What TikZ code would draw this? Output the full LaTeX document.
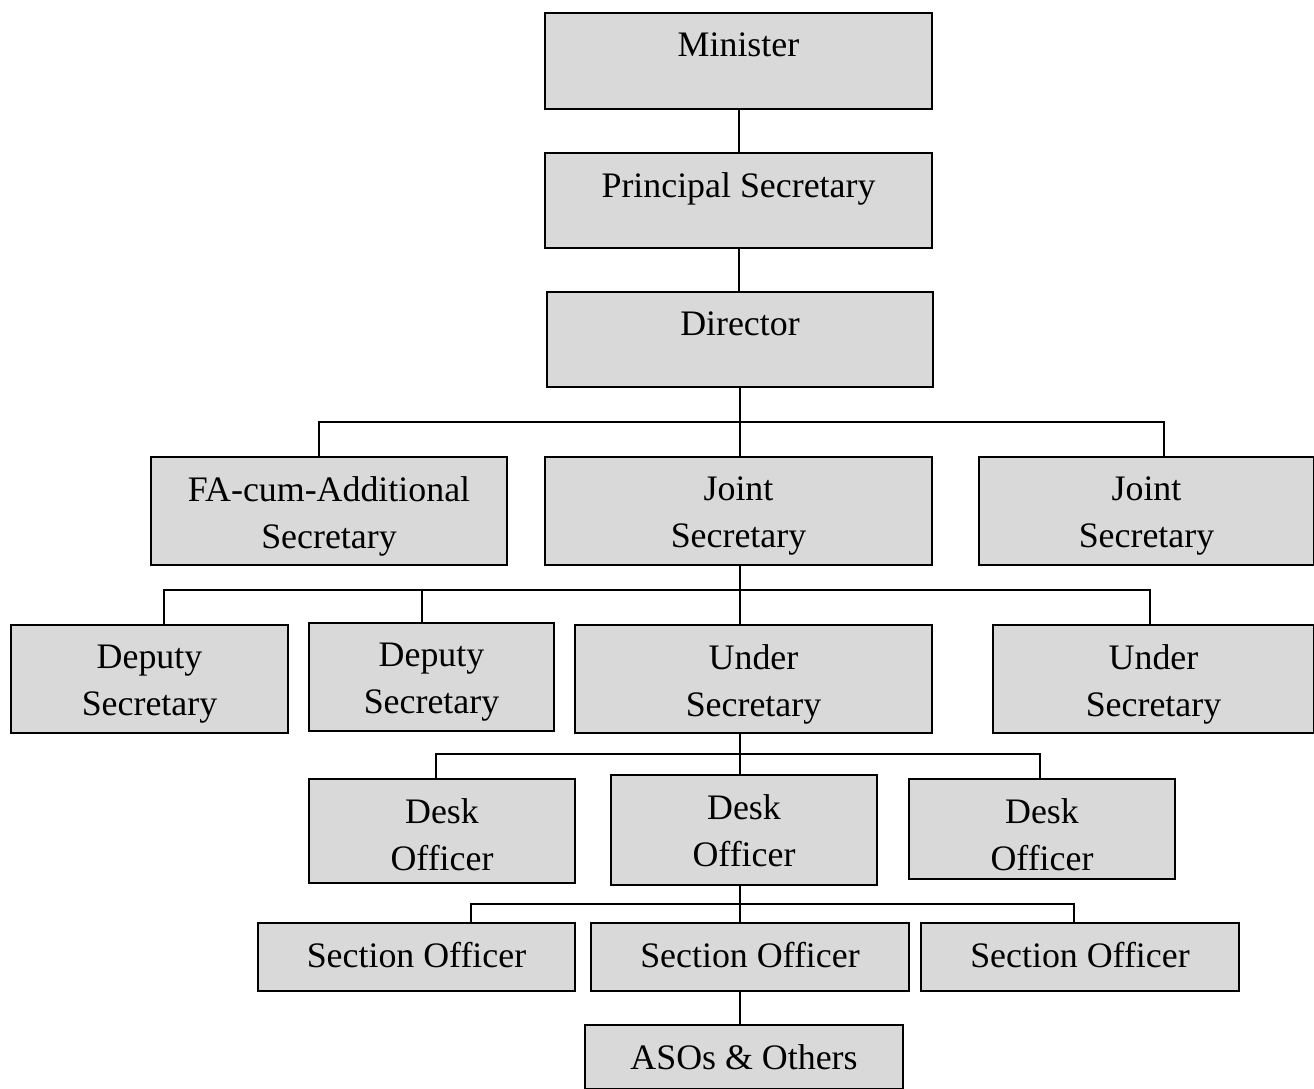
\documentclass[tikz,border=0pt]{standalone}
\usepackage{fontspec}
\setmainfont{Liberation Serif}
\usetikzlibrary{fit}
\definecolor{postgray}{RGB}{217,217,217}

\tikzset{
  post/.style={draw, fill=postgray, line width=0.6pt, inner sep=0pt},
  title/.style={anchor=north, yshift=-0.2cm, inner sep=0pt, align=center,
    font=\fontsize{10.2}{13.4}\selectfont},
  link/.style={line width=0.6pt}
}

\begin{document}
\begin{tikzpicture}[x=0.01cm, y=-0.01cm]
  \useasboundingbox (0,0) rectangle (1314,1089);

  % --- Top of the chart ---
  \node[post, fit={(545,13) (932,109)}, label={[title]north:Minister}] (min) {};
  \node[post, fit={(545,153) (932,248)}, label={[title]north:Principal Secretary}] (ps) {};
  \node[post, fit={(547,292) (933,387)}, label={[title]north:Director}] (dir) {};

  % --- Second row ---
  \node[post, fit={(151,457) (507,565)}, label={[title]north:FA-cum-Additional\\Secretary}] (fa) {};
  \node[post, fit={(545,457) (932,565)}, label={[title]north:Joint\\Secretary}] (jsm) {};
  \node[post, fit={(979,457) (1314,565)}, label={[title]north:Joint\\Secretary}] (jsr) {};

  % --- Third row ---
  \node[post, fit={(11,625) (288,733)}, label={[title]north:Deputy\\Secretary}] (ds1) {};
  \node[post, fit={(309,623) (554,731)}, label={[title]north:Deputy\\Secretary}] (ds2) {};
  \node[post, fit={(575,625) (932,733)}, label={[title]north:Under\\Secretary}] (usm) {};
  \node[post, fit={(993,625) (1314,733)}, label={[title]north:Under\\Secretary}] (usr) {};

  % --- Desk officers ---
  \node[post, fit={(309,779) (575,883)}, label={[title]north:Desk\\Officer}] (do1) {};
  \node[post, fit={(611,775) (877,885)}, label={[title]north:Desk\\Officer}] (do2) {};
  \node[post, fit={(909,779) (1175,879)}, label={[title]north:Desk\\Officer}] (do3) {};

  % --- Section officers ---
  \node[post, fit={(258,923) (575,991)}, label={[title]north:Section Officer}] (so1) {};
  \node[post, fit={(591,923) (909,991)}, label={[title]north:Section Officer}] (so2) {};
  \node[post, fit={(921,923) (1239,991)}, label={[title]north:Section Officer}] (so3) {};
  \node[post, fit={(585,1025) (903,1089)}, label={[title]north:ASOs \& Others}] (aso) {};

  % --- Bus lines ---
  \coordinate (b0) at (739,130);
  \coordinate (b1l) at (319,422);
  \coordinate (b1r) at (1164,422);
  \coordinate (b2l) at (164,590);
  \coordinate (b2m) at (422,590);
  \coordinate (b2c) at (740,590);
  \coordinate (b2r) at (1150,590);
  \coordinate (b3l) at (436,754);
  \coordinate (b3c) at (740,754);
  \coordinate (b3r) at (1040,754);
  \coordinate (b4l) at (471,904);
  \coordinate (b4c) at (740,904);
  \coordinate (b4r) at (1074,904);

  % --- Connectors ---
  \draw[link] (b0 |- min.south) -- (b0 |- ps.north);
  \draw[link] (b0 |- ps.south) -- (b0 |- dir.north);
  \draw[link] (dir.south) -- (dir.south |- jsm.north);
  \draw[link] (b1l |- fa.north) -- (b1l) -- (b1r) -- (b1r |- jsr.north);

  \draw[link] (b2c |- jsm.south) -- (b2c |- usm.north);
  \draw[link] (b2l |- ds1.north) -- (b2l) -- (b2r) -- (b2r |- usr.north);
  \draw[link] (b2m) -- (b2m |- ds2.north);

  \draw[link] (b3c |- usm.south) -- (b3c |- do2.north);
  \draw[link] (b3l |- do1.north) -- (b3l) -- (b3r) -- (b3r |- do3.north);

  \draw[link] (b4c |- do2.south) -- (b4c |- so2.north);
  \draw[link] (b4l |- so1.north) -- (b4l) -- (b4r) -- (b4r |- so3.north);
  \draw[link] (b4c |- so2.south) -- (b4c |- aso.north);
\end{tikzpicture}
\end{document}
